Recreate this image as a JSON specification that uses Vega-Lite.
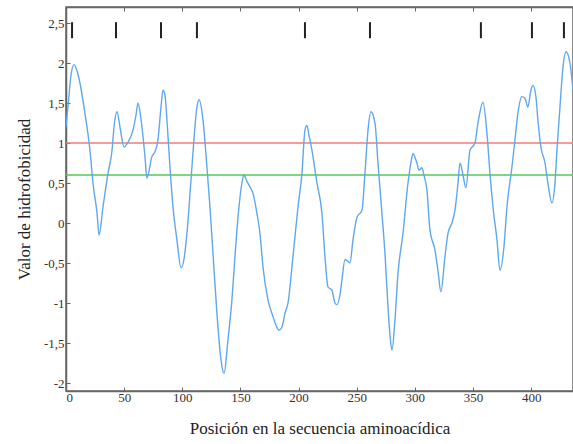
{
  "$schema": "https://vega.github.io/schema/vega-lite/v6.json",
  "width": 507,
  "height": 384,
  "autosize": "none",
  "padding": {"left": 66, "top": 7, "right": 0, "bottom": 53},
  "background": "white",
  "config": {
    "view": {"stroke": "#666", "strokeWidth": 1.5},
    "font": "Liberation Serif",
    "axis": {"grid": false, "domainColor": "#666", "domainWidth": 1.5, "tickColor": "#666", "labelFont": "Liberation Serif", "titleFont": "Liberation Serif", "labelColor": "#333", "titleColor": "#222", "titleFontWeight": "normal"}
  },
  "datasets": {
    "curve": [
      {"pos":0,"h":1.2},{"pos":2.6,"h":1.6},{"pos":4.3,"h":1.85},{"pos":6.9,"h":1.98},{"pos":9.5,"h":1.9},{"pos":12,"h":1.75},{"pos":16.3,"h":1.37},{"pos":20.6,"h":0.91},{"pos":23.2,"h":0.5},{"pos":26.7,"h":0.12},{"pos":28.4,"h":-0.15},{"pos":31.8,"h":0.2},{"pos":36.1,"h":0.62},{"pos":39.6,"h":0.91},{"pos":41.3,"h":1.2},{"pos":43.9,"h":1.39},{"pos":46.4,"h":1.2},{"pos":49.9,"h":0.95},{"pos":53.3,"h":1.01},{"pos":57.6,"h":1.16},{"pos":60.2,"h":1.35},{"pos":61.9,"h":1.5},{"pos":64.5,"h":1.3},{"pos":67.9,"h":0.83},{"pos":69.6,"h":0.56},{"pos":73.9,"h":0.83},{"pos":76.5,"h":0.89},{"pos":79.1,"h":1.04},{"pos":81.7,"h":1.45},{"pos":83.4,"h":1.66},{"pos":85.1,"h":1.6},{"pos":86.8,"h":1.29},{"pos":89.4,"h":0.7},{"pos":92,"h":0.2},{"pos":95.4,"h":-0.21},{"pos":98.9,"h":-0.56},{"pos":101.5,"h":-0.45},{"pos":104,"h":-0.13},{"pos":107.5,"h":0.54},{"pos":110,"h":1.04},{"pos":112.6,"h":1.45},{"pos":114.4,"h":1.54},{"pos":117.8,"h":1.29},{"pos":121.2,"h":0.7},{"pos":123.8,"h":0.2},{"pos":126.4,"h":-0.38},{"pos":129.8,"h":-1.13},{"pos":133.3,"h":-1.71},{"pos":135.9,"h":-1.88},{"pos":139.3,"h":-1.46},{"pos":142.7,"h":-0.96},{"pos":145.3,"h":-0.42},{"pos":147.9,"h":0.07},{"pos":151.3,"h":0.5},{"pos":153,"h":0.6},{"pos":155.6,"h":0.52},{"pos":158.2,"h":0.45},{"pos":160.8,"h":0.37},{"pos":164.2,"h":0.12},{"pos":166.8,"h":-0.13},{"pos":169.4,"h":-0.55},{"pos":173.7,"h":-0.96},{"pos":178,"h":-1.17},{"pos":180.6,"h":-1.28},{"pos":183.1,"h":-1.34},{"pos":185.7,"h":-1.3},{"pos":188.3,"h":-1.13},{"pos":190.9,"h":-1.0},{"pos":195.2,"h":-0.42},{"pos":199.5,"h":0.2},{"pos":202.9,"h":0.62},{"pos":205.5,"h":1.16},{"pos":207.2,"h":1.22},{"pos":208.9,"h":1.1},{"pos":211.5,"h":0.91},{"pos":215.8,"h":0.5},{"pos":220.1,"h":0.12},{"pos":222.7,"h":-0.42},{"pos":225.3,"h":-0.8},{"pos":228.7,"h":-0.84},{"pos":231.3,"h":-1.0},{"pos":233,"h":-1.02},{"pos":235.6,"h":-0.9},{"pos":237.3,"h":-0.71},{"pos":239.9,"h":-0.46},{"pos":242.5,"h":-0.48},{"pos":244.2,"h":-0.5},{"pos":246.8,"h":-0.21},{"pos":250.2,"h":0.07},{"pos":254.5,"h":0.16},{"pos":257.1,"h":0.62},{"pos":259.7,"h":1.16},{"pos":262.3,"h":1.39},{"pos":265.7,"h":1.25},{"pos":268.3,"h":0.75},{"pos":271.7,"h":0.12},{"pos":274.3,"h":-0.38},{"pos":276.9,"h":-1.05},{"pos":278.6,"h":-1.4},{"pos":280.3,"h":-1.59},{"pos":282.9,"h":-1.21},{"pos":285.5,"h":-0.63},{"pos":289.8,"h":-0.13},{"pos":294.1,"h":0.5},{"pos":296.6,"h":0.75},{"pos":298.4,"h":0.87},{"pos":300.1,"h":0.82},{"pos":301.8,"h":0.75},{"pos":303.5,"h":0.66},{"pos":306.1,"h":0.69},{"pos":307.8,"h":0.6},{"pos":310.4,"h":0.41},{"pos":313,"h":-0.09},{"pos":317.3,"h":-0.34},{"pos":319.9,"h":-0.6},{"pos":322.4,"h":-0.86},{"pos":325.9,"h":-0.42},{"pos":328.5,"h":-0.13},{"pos":331.9,"h":0.0},{"pos":334.5,"h":0.16},{"pos":337.1,"h":0.5},{"pos":338.8,"h":0.75},{"pos":341.4,"h":0.6},{"pos":343.9,"h":0.44},{"pos":347.4,"h":0.91},{"pos":351.7,"h":1.0},{"pos":354.3,"h":1.25},{"pos":358.6,"h":1.51},{"pos":362,"h":1.12},{"pos":364.6,"h":0.62},{"pos":367.2,"h":0.2},{"pos":370.6,"h":-0.21},{"pos":373.2,"h":-0.59},{"pos":376.6,"h":-0.3},{"pos":379.2,"h":0.2},{"pos":383.5,"h":0.7},{"pos":386.1,"h":1.04},{"pos":388.6,"h":1.37},{"pos":392.1,"h":1.58},{"pos":394.7,"h":1.56},{"pos":397.2,"h":1.45},{"pos":399.8,"h":1.66},{"pos":401.5,"h":1.72},{"pos":404.1,"h":1.58},{"pos":405.8,"h":1.29},{"pos":408.4,"h":0.95},{"pos":411.9,"h":0.75},{"pos":414.4,"h":0.5},{"pos":417.9,"h":0.25},{"pos":420.5,"h":0.5},{"pos":422.2,"h":0.91},{"pos":424.8,"h":1.45},{"pos":427.4,"h":1.95},{"pos":430,"h":2.14},{"pos":433.4,"h":2.0},{"pos":436,"h":1.66}
    ],
    "marks": [
      {"pos":5.2},{"pos":43},{"pos":81.7},{"pos":112.6},{"pos":205.5},{"pos":261.4},{"pos":356.8},{"pos":400.7},{"pos":428.2}
    ],
    "thresholds": [
      {"v":1.0,"name":"rojo"},{"v":0.6,"name":"verde"}
    ]
  },
  "layer": [
    {
      "data": {"name": "thresholds"},
      "mark": {"type": "rule", "strokeWidth": 1.5},
      "encoding": {
        "y": {"field": "v", "type": "quantitative", "scale": {"domain": [-2.1, 2.7], "nice": false, "zero": false},
          "axis": {"orient": "left", "values": [-2,-1.5,-1,-0.5,0,0.5,1,1.5,2,2.5], "labelExpr": "replace(toString(datum.value), '.', ',')", "tickSize": -4, "labelPadding": 6, "labelFont": "Liberation Serif", "labelFontSize": 13, "title": "Valor de hidrofobicidad", "titleFont": "Liberation Serif", "titleFontSize": 17, "titlePadding": 10}},
        "color": {"field": "name", "type": "nominal", "scale": {"domain": ["rojo","verde"], "range": ["#f07a7a","#55c855"]}, "legend": null}
      }
    },
    {
      "data": {"name": "curve"},
      "mark": {"type": "line", "color": "#5fa8ec", "strokeWidth": 1.4, "interpolate": "monotone", "clip": true},
      "encoding": {
        "x": {"field": "pos", "type": "quantitative", "scale": {"domain": [0, 436], "nice": false, "zero": false},
          "axis": {"orient": "bottom", "values": [0,50,100,150,200,250,300,350,400], "tickSize": -4, "labelPadding": 4, "labelFont": "Liberation Serif", "labelFontSize": 13, "title": "Posición en la secuencia aminoacídica", "titleFont": "Liberation Serif", "titleFontSize": 17, "titlePadding": 16}},
        "y": {"field": "h", "type": "quantitative"}
      }
    },
    {
      "data": {"name": "marks"},
      "mark": {"type": "rule", "color": "#222", "strokeWidth": 2},
      "encoding": {
        "x": {"field": "pos", "type": "quantitative", "axis": {"orient": "top", "values": [50,100,150,200,250,300,350,400], "labels": false, "tickSize": -4, "title": null, "domainColor": "#666"}},
        "y": {"datum": 2.31},
        "y2": {"datum": 2.51}
      }
    }
  ]
}
